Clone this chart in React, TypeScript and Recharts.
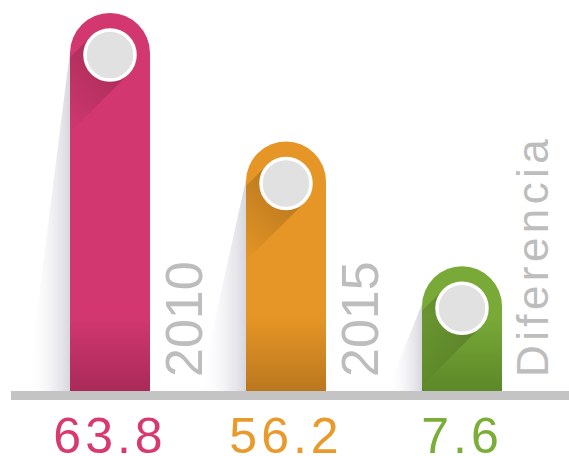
import React from 'react';
import { BarChart, Bar, XAxis, YAxis, LabelList } from 'recharts';

// categories and values
const CATEGORIES = ['2010', '2015', 'Diferencia'];
const VALUES = [63.8, 56.2, 7.6];
// bar heights in the picture are not proportional to the values (relative to the tallest)
const BAR_LEVELS = [100, 66, 33];

const BAR_COLORS = ['#d2386f', '#e69626', '#79aa37'];
const BAR_DARK = ['#a92a58', '#bb771f', '#5c8829'];
const VALUE_COLORS = ['#d83a70', '#e99a2c', '#7bae38'];
const SHADOW_SPREAD = [43, 47, 35];
const FONT = '"Liberation Sans", Arial, sans-serif';

const data = CATEGORIES.map((name, i) => ({ name, value: VALUES[i], level: BAR_LEVELS[i] }));

const BarShape = (props: any) => {
  const { x, y, width: w, height: h, index } = props;
  const r = w / 2;
  const cx = x + r;
  const cy = y + 42;
  const bottom = y + h;
  const path = `M${x},${bottom} L${x},${y + r} A${r},${r} 0 0 1 ${x + w},${y + r} L${x + w},${bottom} Z`;
  const s = 26.5 / Math.SQRT2;
  const d = 140 / Math.SQRT2;
  const longShadow = `M${cx + s},${cy + s} L${cx - s},${cy - s} L${cx - s - d},${cy - s + d} L${cx + s - d},${cy + s + d} Z`;
  const spread = SHADOW_SPREAD[index];
  const wedge = `M${x},${y + 38} L${x},${bottom} L${x - spread},${bottom} Z`;
  return (
    <g>
      <defs>
        <linearGradient id={`fill-${index}`} gradientUnits="userSpaceOnUse" x1="0" y1={bottom - 75} x2="0" y2={bottom}>
          <stop offset="0" stopColor={BAR_COLORS[index]} />
          <stop offset="1" stopColor={BAR_DARK[index]} />
        </linearGradient>
        <linearGradient id={`long-${index}`} gradientUnits="userSpaceOnUse" x1={cx} y1={cy} x2={cx - 60} y2={cy + 60}>
          <stop offset="0" stopColor="#000" stopOpacity={0.2} />
          <stop offset="1" stopColor="#000" stopOpacity={0} />
        </linearGradient>
        <linearGradient id={`wedge-${index}`} gradientUnits="userSpaceOnUse" x1={x} y1="0" x2={x - spread} y2="0">
          <stop offset="0" stopColor="#d6d6de" />
          <stop offset="1" stopColor="#ffffff" stopOpacity={0} />
        </linearGradient>
        <clipPath id={`clip-${index}`}>
          <path d={path} />
        </clipPath>
      </defs>
      <path d={wedge} fill={`url(#wedge-${index})`} />
      <path d={path} fill={`url(#fill-${index})`} />
      <path d={longShadow} fill={`url(#long-${index})`} clipPath={`url(#clip-${index})`} />
      <circle cx={cx} cy={cy} r={25} fill="#e1e1e1" stroke="#ffffff" strokeWidth={3.5} />
    </g>
  );
};

const NameLabel = (props: any) => {
  const { x, y, width, height, value } = props;
  const long = String(value).length > 4;
  const x0 = x + width + (long ? 46 : 52);
  const y0 = y + height - 14;
  return (
    <text
      x={x0}
      y={y0}
      transform={`rotate(-90 ${x0} ${y0})`}
      fill="#bdbdbd"
      fontFamily={FONT}
      fontSize={long ? 44 : 52}
      letterSpacing={long ? 4.4 : 0}
    >
      {value}
    </text>
  );
};

const ValueTick = (props: any) => {
  const { x, y, index } = props;
  return (
    <text x={x} y={y + 57.5} textAnchor="middle" fill={VALUE_COLORS[index]} fontFamily={FONT} fontSize={50} letterSpacing={4}>
      {VALUES[index]}
    </text>
  );
};

export default function App() {
  return (
    <div style={{ position: 'absolute', left: 0, top: 0 }}>
      <BarChart width={569} height={456} data={data} margin={{ top: 13, right: 0, bottom: 0, left: 11 }}>
        <XAxis
          dataKey="name"
          height={60.5}
          axisLine={{ stroke: '#c4c4c4', strokeWidth: 9 }}
          tickLine={false}
          tickSize={0}
          tickMargin={0}
          padding={{ left: 11, right: 19 }}
          interval={0}
          tick={<ValueTick />}
        />
        <YAxis hide domain={[-1.19, 100]} />
        <Bar dataKey="level" barSize={80} isAnimationActive={false} shape={<BarShape />}>
          <LabelList dataKey="name" content={<NameLabel />} />
        </Bar>
      </BarChart>
    </div>
  );
}
